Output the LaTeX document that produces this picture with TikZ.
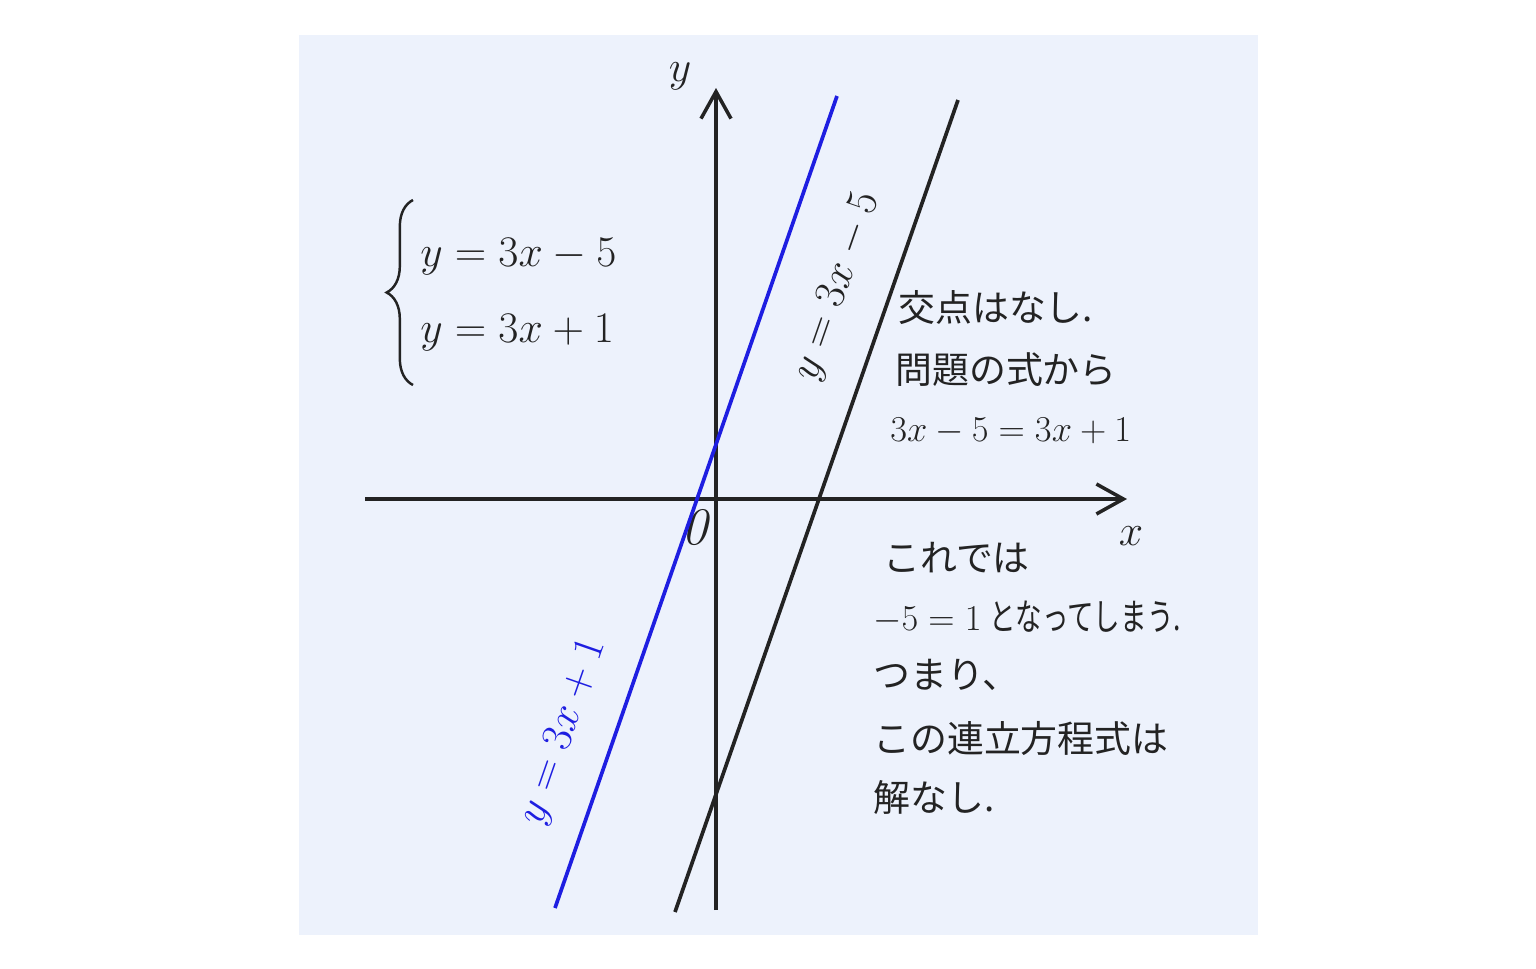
\documentclass[tikz,border=0pt]{standalone}
\usepackage{amsmath}
\usepackage{graphicx}
\usepackage{fontspec}
\newfontfamily\jpfont{Noto Sans CJK JP}
\usetikzlibrary{arrows.meta,decorations.pathreplacing}
\definecolor{GraphBg}{RGB}{237,242,252}
\definecolor{GraphInk}{RGB}{35,35,35}
\definecolor{GraphBlue}{RGB}{30,30,225}

\begin{document}
\begin{tikzpicture}[x=0.02cm,y=-0.02cm,
    axisline/.style={draw=GraphInk,line width=2.1pt,-{Straight Barb[length=0.54cm,width=0.6cm,line width=2pt]}},
    graphline/.style={line width=2.1pt},
    jptext/.style={inner sep=0pt,anchor=west,text=GraphInk,font=\jpfont\fontsize{21}{25}\selectfont},
    eqtext/.style={inner sep=0pt,text=GraphInk,font=\fontsize{25}{30}\selectfont},
    axislabel/.style={inner sep=0pt,text=GraphInk,font=\fontsize{38}{44}\selectfont}]
  \useasboundingbox (0,0) rectangle (1536,968);
  \fill[white] (0,0) rectangle (1536,968);
  \fill[GraphBg] (299,35) rectangle (1258,935);
  % axes
  \coordinate (xstart) at (365,499);
  \coordinate (xend) at (1127,499);
  \coordinate (ystart) at (716,910);
  \coordinate (yend) at (716,88);
  \draw[axisline] (xstart) -- (xend);
  \draw[axisline] (ystart) -- (yend);
  \node[axislabel] (ylabel) at (680,76) {$y$};
  \node[axislabel] (xlabel) at (1131,536) {$x$};
  \node[inner sep=0pt,text=GraphInk,font=\fontsize{30}{36}\selectfont] (origin) at (696,528) {\textit{0}};
  % the two lines
  \coordinate (bluelo) at (555,908);
  \coordinate (bluehi) at (837,96);
  \coordinate (blacklo) at (675,912);
  \coordinate (blackhi) at (958,100);
  \draw[graphline,GraphBlue] (bluelo) -- (bluehi);
  \draw[graphline,GraphInk] (blacklo) -- (blackhi);
  \node[eqtext,rotate=70.8] (lblblack) at (838,287) {$y=3x-5$};
  \node[eqtext,text=GraphBlue,rotate=70.8,font=\fontsize{23}{28}\selectfont] (lblblue) at (564,732) {$y=3x+1$};
  % the system
  \draw[GraphInk,line width=1.4pt,decorate,decoration={brace,amplitude=15pt}] (413,385) -- (413,200);
  \node[eqtext,anchor=west] (eqa) at (420,257) {$y=3x-5$};
  \node[eqtext,anchor=west] (eqb) at (420,333) {$y=3x+1$};
  % notes
  \node[jptext] (kouten) at (898,308) {交点はなし.};
  \node[jptext] (mondai) at (895,370) {問題の式から};
  \node[jptext] (shiki) at (890,431) {$3x-5=3x+1$};
  \node[jptext] (koredewa) at (883,558) {これでは};
  \node[jptext] (naru) at (873,617) {$-5=1$ \scalebox{0.72}[1]{となってしまう.}};
  \node[jptext] (tsumari) at (873,675) {つまり、};
  \node[jptext] (renritsu) at (873,738) {この連立方程式は};
  \node[jptext] (kainashi) at (873,797) {解なし.};
\end{tikzpicture}
\end{document}
